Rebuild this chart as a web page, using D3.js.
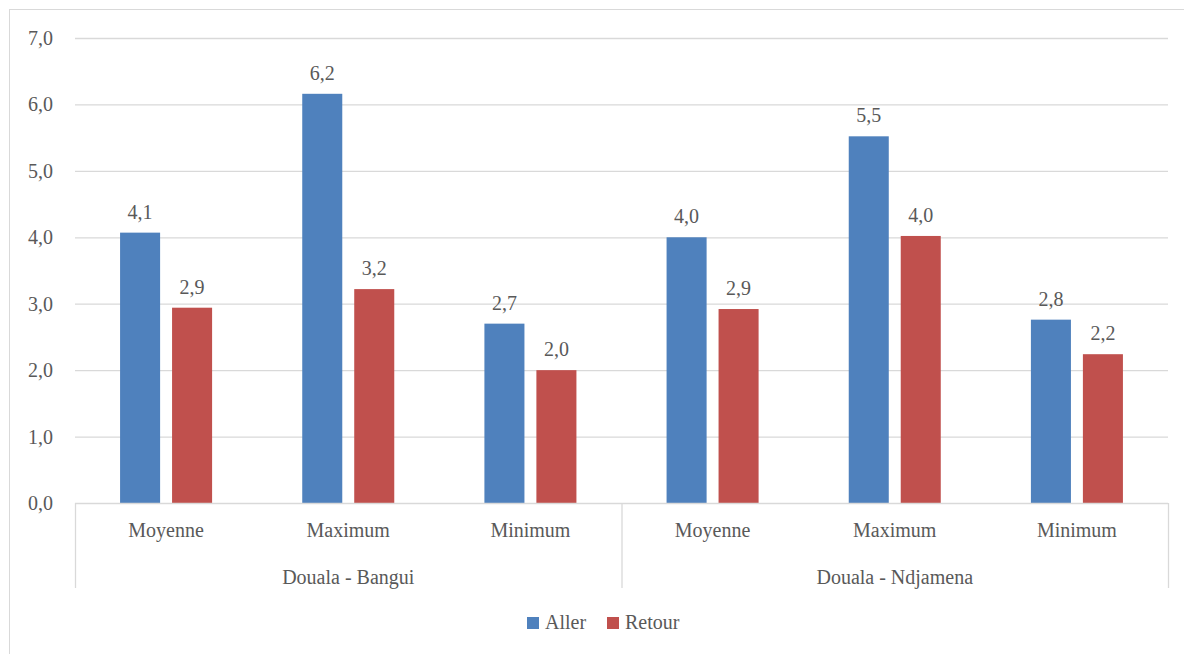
<!DOCTYPE html>
<html>
<head>
<meta charset="utf-8">
<script src="https://cdn.jsdelivr.net/npm/d3@7"></script>
<style>
  body { margin: 0; background: #fff; }
</style>
</head>
<body>
<div id="chart"></div>
<script>
// data
var groups = ["Douala - Bangui", "Douala - Ndjamena"];
var categories = ["Moyenne", "Maximum", "Minimum"];
var seriesNames = ["Aller", "Retour"];
var allerValues = [4.07, 6.16, 2.70, 4.00, 5.52, 2.76];
var retourValues = [2.94, 3.22, 2.00, 2.92, 4.02, 2.24];
var yTicks = [0, 1, 2, 3, 4, 5, 6, 7];
var colors = ["#4F81BD", "#C0504D"];

var W = 1184, H = 654;
var margin = { top: 38, right: 16, bottom: 151, left: 75 };
var width = W - margin.left - margin.right,
    height = H - margin.top - margin.bottom;

var svg = d3.select("#chart").append("svg")
    .attr("width", W).attr("height", H)
    .style("font-family", "'Times New Roman', Tinos, 'Liberation Serif', 'Noto Serif', 'DejaVu Serif', FreeSerif, serif")
    .attr("fill", "#595959");

// outer frame
svg.append("rect")
    .attr("x", 9.5).attr("y", 9.5)
    .attr("width", W).attr("height", H)
    .attr("fill", "none").attr("stroke", "#d9d9d9");

var g = svg.append("g").attr("transform", "translate(" + margin.left + "," + margin.top + ")");

// one slot per category within group
var slots = [];
groups.forEach(function (grp, gi) {
    categories.forEach(function (c, ci) {
        slots.push({ key: gi + "-" + ci, group: grp, cat: c, idx: gi * categories.length + ci });
    });
});

var x0 = d3.scaleBand().domain(slots.map(function (d) { return d.key; })).range([0, width]);
var x1 = d3.scaleBand().domain(seriesNames).range([0, x0.bandwidth()]).paddingInner(0.23).paddingOuter(0.867);
var y = d3.scaleLinear().domain([0, 7]).range([height, 0]);

// gridlines
g.append("g").selectAll("line")
    .data(yTicks.slice(1))
    .enter().append("line")
    .attr("x1", 0).attr("x2", width)
    .attr("y1", function (d) { return y(d) + 0.5; })
    .attr("y2", function (d) { return y(d) + 0.5; })
    .attr("stroke", "#d9d9d9").attr("stroke-width", 1.3);

// y labels
g.append("g").selectAll("text")
    .data(yTicks)
    .enter().append("text")
    .attr("x", -22)
    .attr("y", function (d) { return y(d); })
    .attr("dy", "0.35em")
    .attr("text-anchor", "end")
    .attr("font-size", "20px")
    .text(function (d) { return d.toFixed(1).replace(".", ","); });

// bars
var rows = slots.map(function (s) {
    return { key: s.key, values: [allerValues[s.idx], retourValues[s.idx]] };
});

var slotG = g.selectAll(".slot")
    .data(rows)
    .enter().append("g")
    .attr("class", "slot")
    .attr("transform", function (d) { return "translate(" + x0(d.key) + ",0)"; });

slotG.selectAll("rect")
    .data(function (d) { return d.values.map(function (v, i) { return { s: seriesNames[i], v: v, i: i }; }); })
    .enter().append("rect")
    .attr("x", function (d) { return x1(d.s); })
    .attr("y", function (d) { return y(d.v); })
    .attr("width", x1.bandwidth())
    .attr("height", function (d) { return height - y(d.v); })
    .attr("fill", function (d) { return colors[d.i]; });

slotG.selectAll("text")
    .data(function (d) { return d.values.map(function (v, i) { return { s: seriesNames[i], v: v, i: i }; }); })
    .enter().append("text")
    .attr("x", function (d) { return x1(d.s) + x1.bandwidth() / 2; })
    .attr("y", function (d) { return y(d.v) - 14; })
    .attr("text-anchor", "middle")
    .attr("font-size", "20px")
    .text(function (d) { return d.v.toFixed(1).replace(".", ","); });

// category axis
var axisG = g.append("g").attr("transform", "translate(0," + height + ")");
axisG.append("line")
    .attr("x1", 0).attr("x2", width).attr("y1", 0.5).attr("y2", 0.5)
    .attr("stroke", "#d9d9d9").attr("stroke-width", 1.3);

var groupW = width / groups.length;
axisG.selectAll(".sep")
    .data(d3.range(groups.length + 1))
    .enter().append("line")
    .attr("x1", function (d) { return d * groupW + 0.5; })
    .attr("x2", function (d) { return d * groupW + 0.5; })
    .attr("y1", 0).attr("y2", 85)
    .attr("stroke", "#d9d9d9").attr("stroke-width", 1.3);

axisG.selectAll(".cat")
    .data(slots)
    .enter().append("text")
    .attr("x", function (d) { return x0(d.key) + x0.bandwidth() / 2; })
    .attr("y", 34)
    .attr("text-anchor", "middle")
    .attr("font-size", "20px")
    .text(function (d) { return d.cat; });

axisG.selectAll(".grp")
    .data(groups)
    .enter().append("text")
    .attr("x", function (d, i) { return i * groupW + groupW / 2; })
    .attr("y", 81)
    .attr("text-anchor", "middle")
    .attr("font-size", "20px")
    .text(function (d) { return d; });

// legend
var legend = svg.append("g").attr("transform", "translate(527,617)");
var legX = [0, 80];
seriesNames.forEach(function (s, i) {
    legend.append("rect")
        .attr("x", legX[i]).attr("y", 0)
        .attr("width", 12).attr("height", 12)
        .attr("fill", colors[i]);
    legend.append("text")
        .attr("x", legX[i] + 18).attr("y", 12)
        .attr("font-size", "20px")
        .text(s);
});
</script>
</body>
</html>
